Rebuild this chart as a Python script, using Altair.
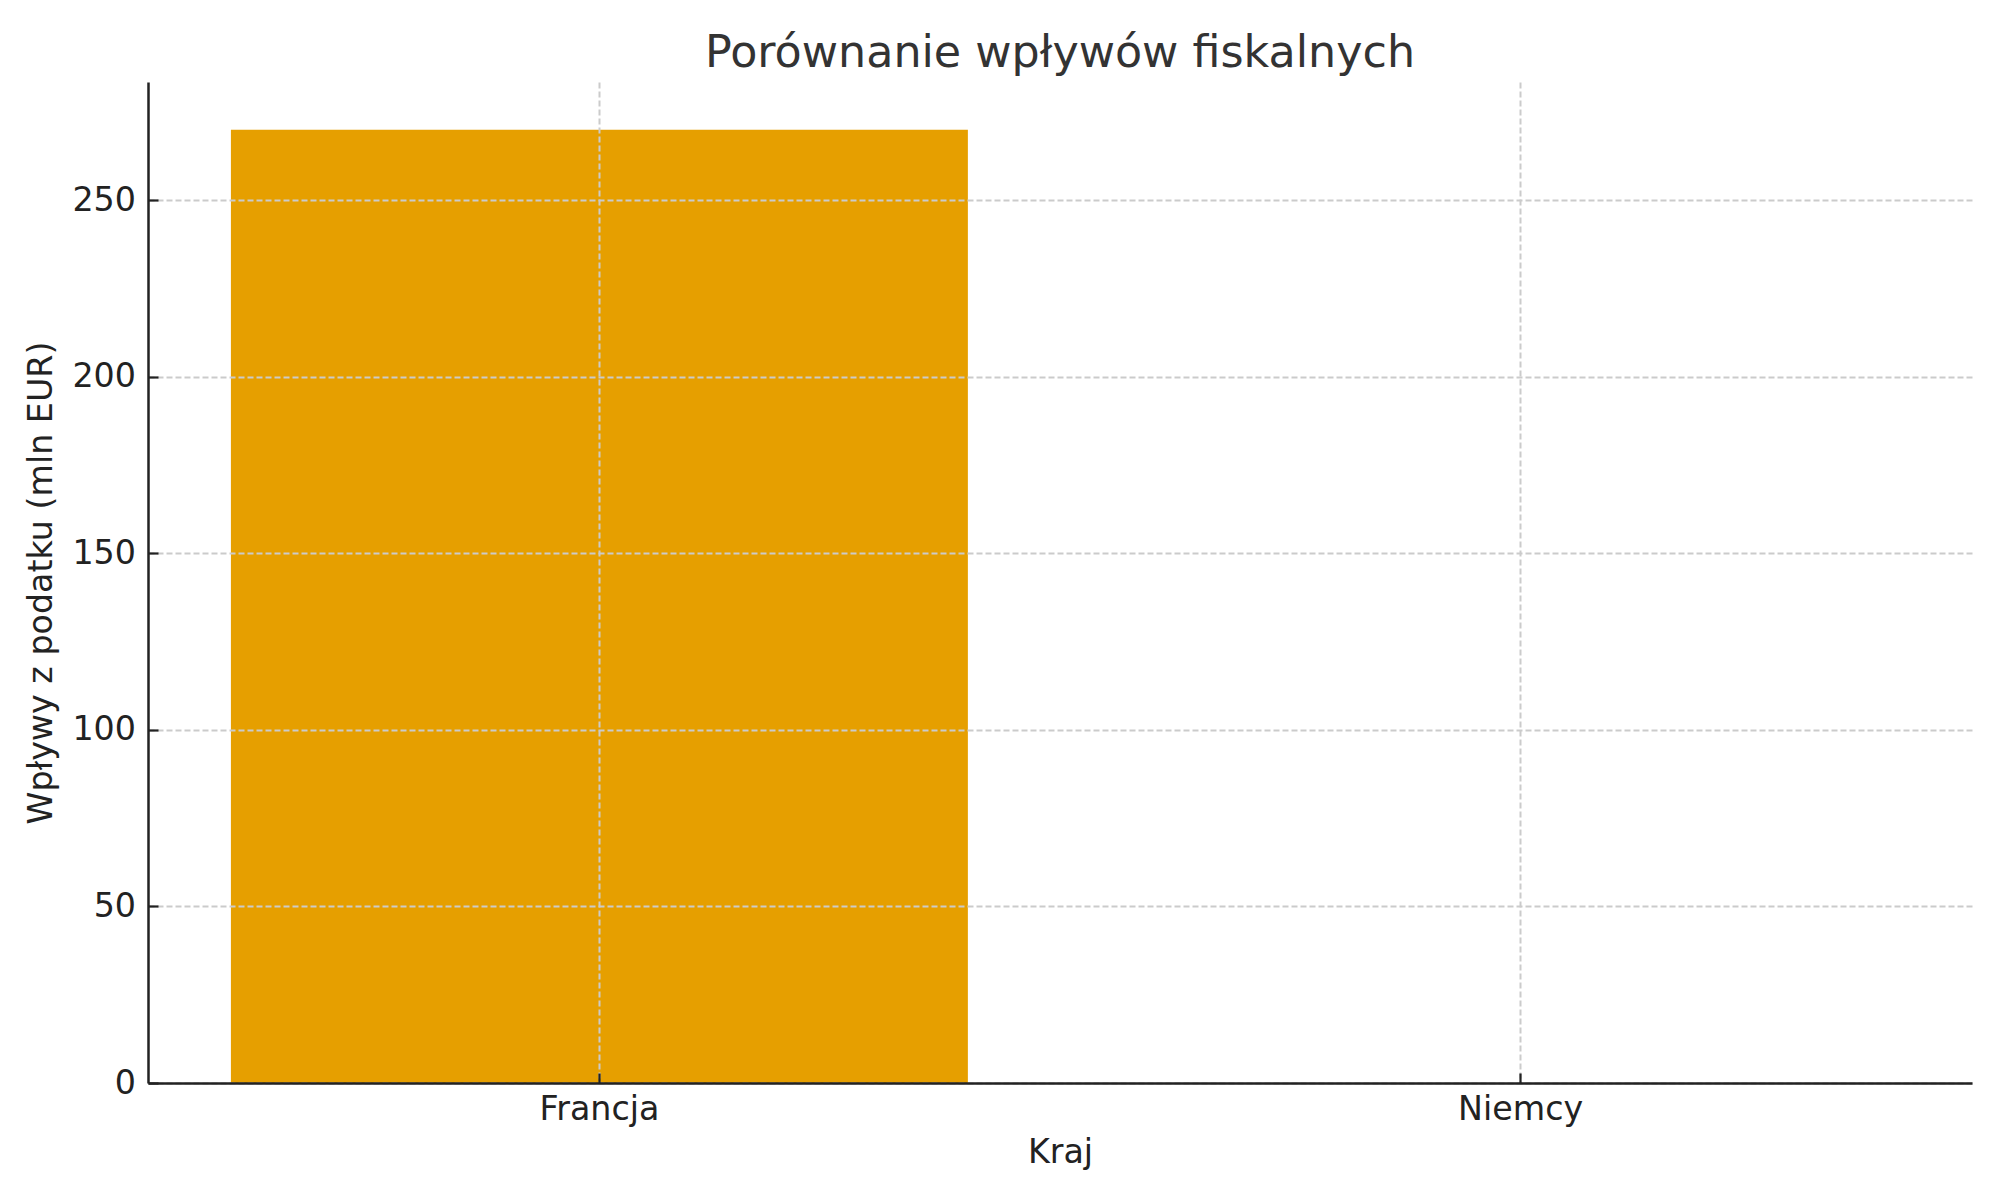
import altair as alt
import pandas as pd

# Data
countries = ["Francja", "Niemcy"]
revenue = [270, 0]
y_ticks = [0, 50, 100, 150, 200, 250]
y_max = 283.5

df = pd.DataFrame({"Kraj": countries, "Wplywy": revenue})

W = 1824
H = 1001
FONT = "DejaVu Sans"
TXT = "#222222"
GRID = "#cbcbcb"
FS = 33.3

x_scale = alt.Scale(domain=countries, paddingInner=0.2, paddingOuter=0.09)
y_scale = alt.Scale(domain=[0, y_max], nice=False, zero=True)

bars = alt.Chart(df).mark_bar(color="#E69F00").encode(
    x=alt.X(
        "Kraj:N",
        sort=countries,
        scale=x_scale,
        axis=alt.Axis(
            orient="bottom",
            title="Kraj",
            labelAngle=0,
            labelFont=FONT,
            labelFontSize=FS,
            labelColor=TXT,
            labelPadding=10.5,
            ticks=False,
            tickSize=0,
            domain=True,
            domainColor=TXT,
            domainWidth=2.5,
            grid=True,
            gridColor=GRID,
            gridWidth=2,
            gridDash=[6, 3],
            titleFont=FONT,
            titleFontSize=FS,
            titleFontWeight="normal",
            titleColor=TXT,
            titlePadding=11,
            zindex=1,
        ),
    ),
    y=alt.Y(
        "Wplywy:Q",
        scale=y_scale,
        axis=alt.Axis(
            orient="left",
            title="Wpływy z podatku (mln EUR)",
            values=y_ticks,
            labelFont=FONT,
            labelFontSize=FS,
            labelColor=TXT,
            labelPadding=12.5,
            ticks=False,
            tickSize=0,
            domain=True,
            domainColor=TXT,
            domainWidth=2.5,
            grid=True,
            gridColor=GRID,
            gridWidth=2,
            gridDash=[6, 3],
            titleFont=FONT,
            titleFontSize=FS,
            titleFontWeight="normal",
            titleColor=TXT,
            titlePadding=13,
            zindex=1,
        ),
    ),
)

# Inward-pointing tick marks: axes on the opposite sides, shifted onto the plot edges
ticks_layer = alt.Chart(df).mark_bar(opacity=0).encode(
    x=alt.X(
        "Kraj:N",
        sort=countries,
        scale=x_scale,
        axis=alt.Axis(
            orient="top",
            offset=-H,
            title=None,
            labels=False,
            domain=False,
            grid=False,
            ticks=True,
            tickSize=10,
            tickWidth=2.2,
            tickColor=TXT,
            zindex=2,
        ),
    ),
    y=alt.Y(
        "Wplywy:Q",
        scale=y_scale,
        axis=alt.Axis(
            orient="right",
            offset=-W,
            title=None,
            values=y_ticks,
            labels=False,
            domain=False,
            grid=False,
            ticks=True,
            tickSize=10,
            tickWidth=2.2,
            tickColor=TXT,
            zindex=2,
        ),
    ),
)

chart = (
    alt.layer(bars, ticks_layer)
    .resolve_scale(x="independent", y="independent")
    .properties(
        width=W,
        height=H,
        title=alt.TitleParams(
            text="Porównanie wpływów fiskalnych",
            font=FONT,
            fontSize=44.4,
            fontWeight="normal",
            color="#333333",
            anchor="middle",
            baseline="alphabetic",
            offset=17,
            dy=46,
        ),
        autosize=alt.AutoSizeParams(type="none"),
        padding={"left": 140, "top": 74, "right": 20, "bottom": 117},
        background="white",
    )
    .configure_view(strokeWidth=0)
)

chart.save("out.html", embed_options={"renderer": "svg", "actions": False})
